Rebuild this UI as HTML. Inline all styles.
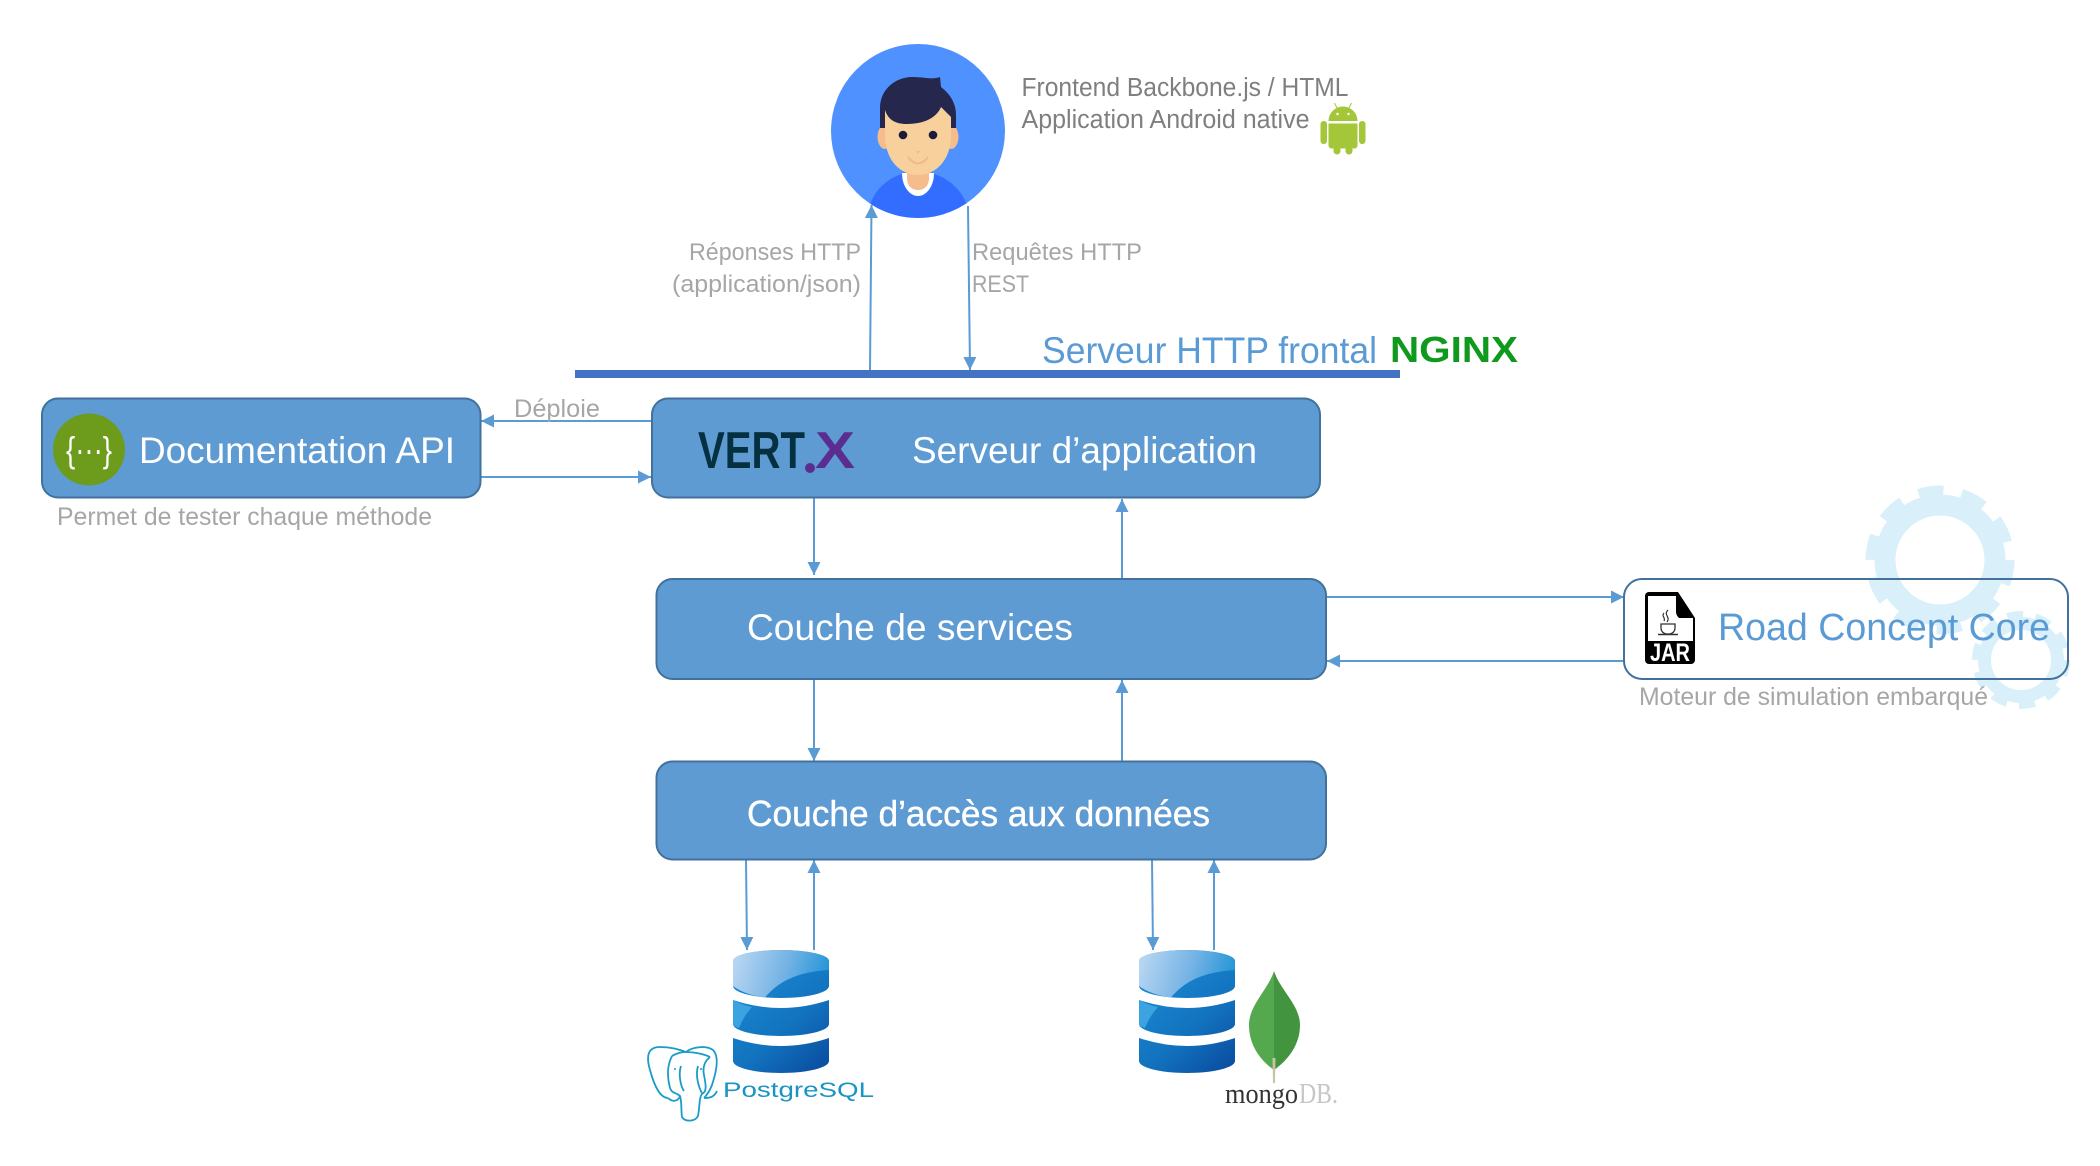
<!DOCTYPE html>
<html lang="fr"><head><meta charset="utf-8"><title>Architecture</title>
<style>html,body{margin:0;padding:0;background:#fff}svg{display:block}text{font-family:"Liberation Sans",sans-serif}</style></head>
<body>
<svg width="2100" height="1166" viewBox="0 0 2100 1166" xmlns="http://www.w3.org/2000/svg">
<defs>
<linearGradient id="dbg" gradientUnits="userSpaceOnUse" x1="733" y1="960" x2="829" y2="1070"><stop offset="0" stop-color="#1E8FD8"/><stop offset=".6" stop-color="#1272BE"/><stop offset="1" stop-color="#0A4A9E"/></linearGradient>
<linearGradient id="dbh" gradientUnits="userSpaceOnUse" x1="733" y1="955" x2="829" y2="985"><stop offset="0" stop-color="#BCD8F3"/><stop offset=".55" stop-color="#72B2E4"/><stop offset="1" stop-color="#1A93D6"/></linearGradient>
<g id="db">
<path d="M733,961A48,11 0 0 1 829,961L829,986A48,12 0 0 1 733,986Z" fill="url(#dbg)"/>
<path d="M733,1000Q781,1016 829,1000L829,1024A48,12 0 0 1 733,1024Z" fill="url(#dbg)"/>
<path d="M733,1038Q781,1054 829,1038L829,1061A48,12 0 0 1 733,1061Z" fill="url(#dbg)"/>
<path d="M733,961A48,11 0 0 1 829,961L829,970C796,972 778,982 765,997.5Q745,995 733,986Z" fill="url(#dbh)"/>
<path d="M733,1000Q742,1005 752,1007Q743,1017 739,1028Q733,1026 733,1024Z" fill="#3BA3DF"/>
</g>
<marker id="a" viewBox="0 0 13 13" refX="13" refY="6.5" markerWidth="13" markerHeight="13" markerUnits="userSpaceOnUse" orient="auto"><path d="M0,0L13,6.5L0,13Z" fill="#5B9BD5"/></marker>
<clipPath id="cc"><circle cx="918" cy="131" r="87"/></clipPath>
</defs>

<!-- gears -->
<g fill="none" stroke="#D9F0FA">
<circle cx="1940" cy="560" r="55" stroke-width="21"/>
<circle cx="1940" cy="560" r="69" stroke-width="11" stroke-dasharray="25 18.35"/>
<circle cx="2021" cy="660" r="36.5" stroke-width="13"/>
<circle cx="2021" cy="660" r="45" stroke-width="8" stroke-dasharray="16 12.27"/>
</g>

<!-- person -->
<circle cx="918" cy="131" r="87" fill="#4F92FF"/>
<g clip-path="url(#cc)">
<path d="M870,205C876,186 892,176 906,173L930,173C944,176 960,186 967,205L967,220L870,220Z" fill="#336DFF"/>
</g>
<path d="M902,173L934,173C934,187 926,196 918,196C910,196 902,187 902,173Z" fill="#fff"/>
<path d="M907,165L929,165L929,178C929,186 924,190 918,190C912,190 907,186 907,178Z" fill="#F5BC8C"/>
<ellipse cx="885" cy="137" rx="7.5" ry="12" fill="#F5BC8C"/><ellipse cx="951" cy="137" rx="7.5" ry="12" fill="#F5BC8C"/>
<path d="M885,100L951,100L951,135C951,160 936,175 918,175C900,175 885,160 885,135Z" fill="#F8D09B"/>
<path d="M880,128L880,108C880,88 897,77 912,77C924,77 932,80 940,77L941,87C950,94 956,103 956,115L956,128L951,128L951,117L941,107C937,117 925,124 907,124C896,124 888,120 885,110L885,128Z" fill="#25274D"/>
<circle cx="903" cy="135" r="4.3" fill="#1B1C3C"/><circle cx="933" cy="135" r="4.3" fill="#1B1C3C"/>
<path d="M916,151h4l-2,3z" fill="#F2B88A"/>
<path d="M908,157Q918,170 928,157" fill="none" stroke="#F2B88A" stroke-width="2"/>

<text x="1021.500" y="96" font-size="25.500" fill="#7f7f7f" textLength="327" lengthAdjust="spacingAndGlyphs">Frontend Backbone.js / HTML</text>
<text x="1021.500" y="128" font-size="25.500" fill="#7f7f7f" textLength="288" lengthAdjust="spacingAndGlyphs">Application Android native</text>

<!-- android -->
<g fill="#A4C639">
<path d="M1328.500,121a14.500,14.500 0 0 1 29,0Z"/>
<path d="M1328.500,123.500h29v22a3,3 0 0 1-3,3h-23a3,3 0 0 1-3-3Z"/>
<rect x="1320.500" y="121" width="6.500" height="23" rx="3.200"/><rect x="1359" y="121" width="6.500" height="23" rx="3.200"/>
<rect x="1333.500" y="146" width="7" height="8.500" rx="3.500"/><rect x="1345.500" y="146" width="7" height="8.500" rx="3.500"/>
<path d="M1334.500,103l3,6M1351.500,103l-3,6" stroke="#A4C639" stroke-width="1"/>
</g>
<circle cx="1337.500" cy="114" r="1.200" fill="#fff"/><circle cx="1348.500" cy="114" r="1.200" fill="#fff"/>

<!-- arrows -->
<g fill="none" stroke="#5B9BD5" stroke-width="2" marker-end="url(#a)">
<path d="M870,370L871.500,205"/>
<path d="M968,206L970,370"/>
<path d="M651,421L481,421"/>
<path d="M481,477L651,477"/>
<path d="M814,498L814,575"/>
<path d="M1122,578L1122,499"/>
<path d="M814,679L814,761"/>
<path d="M1122,761L1122,680"/>
<path d="M1326,597L1624,597"/>
<path d="M1624,661L1327,661"/>
<path d="M746,859L747,950"/>
<path d="M814,950L814,860"/>
<path d="M1152,859L1153,950"/>
<path d="M1214,950L1214,860"/>
</g>

<text x="689" y="260" font-size="24.500" fill="#a6a6a6" textLength="172" lengthAdjust="spacingAndGlyphs">Réponses HTTP</text>
<text x="672" y="292" font-size="24.500" fill="#a6a6a6" textLength="189" lengthAdjust="spacingAndGlyphs">(application/json)</text>
<text x="972" y="260" font-size="24.500" fill="#a6a6a6" textLength="170" lengthAdjust="spacingAndGlyphs">Requêtes HTTP</text>
<text x="972" y="292" font-size="24.500" fill="#a6a6a6" textLength="57" lengthAdjust="spacingAndGlyphs">REST</text>

<!-- bar -->
<rect x="575" y="370" width="825" height="8" fill="#4472C4"/>
<text x="1042" y="363" font-size="37" fill="#5B9BD5" textLength="335" lengthAdjust="spacingAndGlyphs">Serveur HTTP frontal</text>
<text x="1390" y="362" font-size="36" font-weight="bold" fill="#0F9A1E" textLength="128" lengthAdjust="spacingAndGlyphs">NGINX</text>

<!-- boxes -->
<g fill="#5F9BD3" stroke="#41719C" stroke-width="2">
<rect x="42" y="398.500" width="438.500" height="99" rx="16"/>
<rect x="652" y="398.500" width="668" height="99" rx="16"/>
<rect x="656.500" y="579" width="669.500" height="100" rx="16"/>
<rect x="656.500" y="761.500" width="669.500" height="98" rx="16"/>
</g>
<rect x="1624" y="579" width="444" height="100" rx="18" fill="none" stroke="#41719C" stroke-width="2"/>

<!-- doc -->
<circle cx="89" cy="449.500" r="36" fill="#6D9B1C"/>
<text x="89" y="462" font-size="36" fill="#fff" text-anchor="middle" textLength="46" lengthAdjust="spacingAndGlyphs">{···}</text>
<text x="139" y="463" font-size="37" fill="#fff" textLength="316" lengthAdjust="spacingAndGlyphs">Documentation API</text>
<text x="514" y="417" font-size="25" fill="#a6a6a6" textLength="86" lengthAdjust="spacingAndGlyphs">Déploie</text>
<text x="57" y="525" font-size="25" fill="#a6a6a6" textLength="375" lengthAdjust="spacingAndGlyphs">Permet de tester chaque méthode</text>

<!-- vertx -->
<text x="698" y="468" font-size="52" font-weight="bold" fill="#04303F" textLength="107" lengthAdjust="spacingAndGlyphs">VERT</text>
<circle cx="810" cy="468" r="5" fill="#5C2D91"/>
<text x="815" y="468" font-size="52" font-weight="bold" fill="#5C2D91" textLength="40" lengthAdjust="spacingAndGlyphs">X</text>
<text x="912" y="463" font-size="37" fill="#fff" textLength="345" lengthAdjust="spacingAndGlyphs">Serveur d’application</text>
<text x="747" y="640" font-size="37" fill="#fff" textLength="326" lengthAdjust="spacingAndGlyphs">Couche de services</text>
<text x="747" y="826" font-size="36" fill="#fff" stroke="#fff" stroke-width=".4" textLength="463" lengthAdjust="spacingAndGlyphs">Couche d’accès aux données</text>

<!-- jar -->
<path d="M1649,592L1678,592L1695,618L1695,660a4,4 0 0 1-4,4L1649,664a4,4 0 0 1-4-4L1645,596a4,4 0 0 1 4-4Z" fill="#000"/>
<path d="M1648,596L1676,596L1676,611a9,9 0 0 0 3,7L1693,618L1693,641L1648,641Z" fill="#fff"/>
<path d="M1668,610c-5,5 3,7-1,12M1664,613c-3,3 2,5 0,8" fill="none" stroke="#333" stroke-width="1.200"/>
<path d="M1661,624h14v4a6,6 0 0 1-6,6h-2a6,6 0 0 1-6-6Z" fill="none" stroke="#333" stroke-width="1.300"/>
<path d="M1658,634.500h20" stroke="#333" stroke-width="1.500"/>
<text x="1670" y="661" font-size="25" font-weight="bold" fill="#fff" text-anchor="middle" textLength="40" lengthAdjust="spacingAndGlyphs">JAR</text>
<text x="1718" y="640" font-size="38" fill="#5B9BD5" textLength="332" lengthAdjust="spacingAndGlyphs">Road Concept Core</text>
<text x="1639" y="705" font-size="25" fill="#a6a6a6" textLength="349" lengthAdjust="spacingAndGlyphs">Moteur de simulation embarqué</text>

<!-- dbs -->
<use href="#db"/>
<use href="#db" x="406"/>

<!-- postgres -->
<g fill="none" stroke="#1A9CC7" stroke-width="1.800">
<path d="M668,1098C660,1098 654,1085 650,1070C645,1053 650,1047 660,1047C672,1047 680,1050 686,1052C692,1047 706,1045 713,1050C719,1056 717,1070 712,1085C710,1090 708,1094 704,1098"/>
<path d="M672,1056C667,1066 667,1076 670,1088C672,1094 676,1092 680,1096C682,1102 681,1112 682,1117C685,1122 695,1122 698,1116C700,1105 699,1098 702,1094C707,1092 706,1085 704,1075C702,1066 706,1060 710,1057"/>
<path d="M686,1052C678,1052 672,1056 672,1056M686,1052C694,1052 704,1054 710,1057"/>
<path d="M681,1066C678,1075 681,1087 684,1091M698,1066C695,1076 699,1088 702,1093"/>
<path d="M668,1098C672,1102 678,1102 680,1096M704,1098C708,1098 714,1098 717,1091"/>
</g>
<circle cx="675" cy="1069" r="1" fill="#1A9CC7"/><circle cx="701" cy="1069" r="1" fill="#1A9CC7"/>
<text x="723" y="1097" font-size="21" fill="#1A94C4" textLength="151" lengthAdjust="spacingAndGlyphs">PostgreSQL</text>

<!-- mongo -->
<path d="M1274,971C1268,990 1249,1005 1249,1025C1249,1045 1260,1060 1274,1070Z" fill="#54A94E"/>
<path d="M1274,971C1280,990 1300,1005 1300,1025C1300,1045 1288,1060 1274,1070Z" fill="#43943F"/>
<path d="M1272.500,1058L1275.500,1058L1275,1083L1273,1083Z" fill="#C9C4A8"/>
<text x="1225" y="1103" font-size="28" style="font-family:'Liberation Serif',serif" fill="#333" textLength="73" lengthAdjust="spacingAndGlyphs">mongo</text>
<text x="1299" y="1103" font-size="28" style="font-family:'Liberation Serif',serif" fill="#c6c6c6" textLength="39" lengthAdjust="spacingAndGlyphs">DB.</text>
</svg>
</body></html>
